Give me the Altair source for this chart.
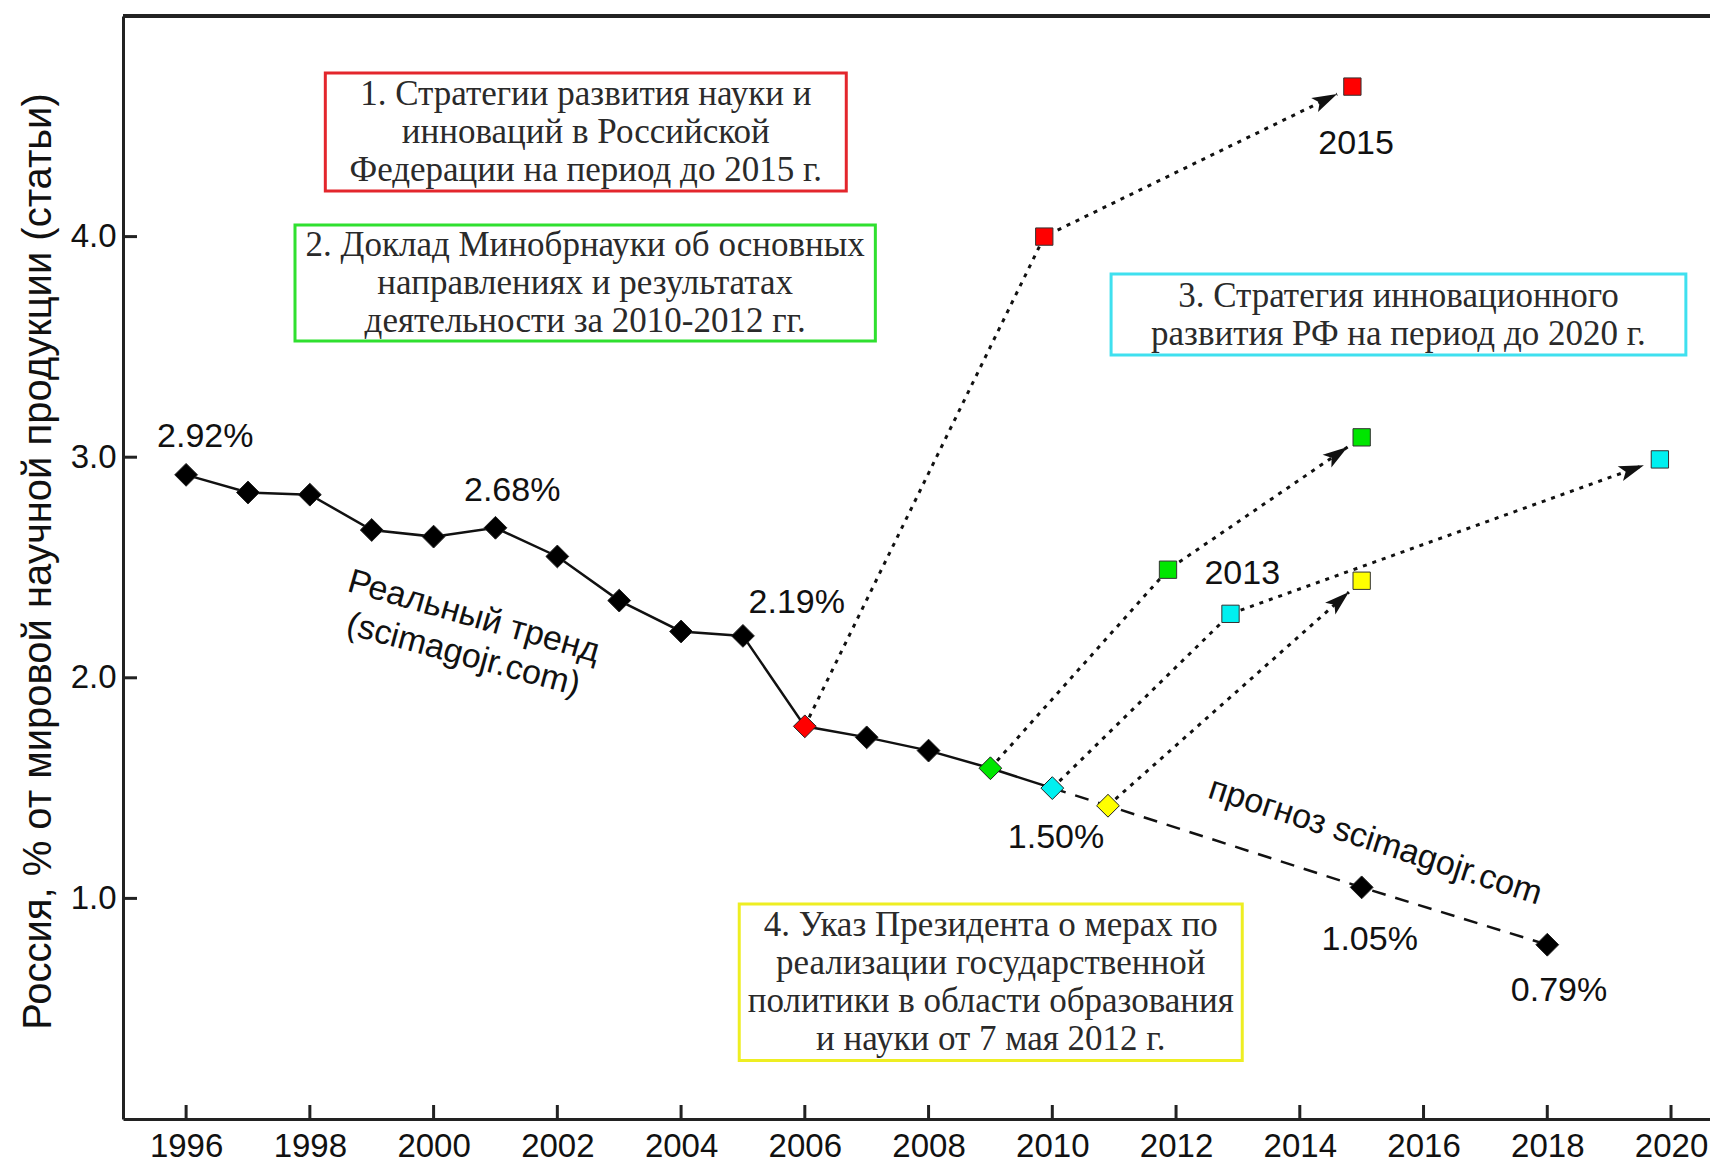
import math
import altair as alt
import pandas as pd

# ---------------- data ----------------
real_years = list(range(1996, 2011))
real_share = [2.92, 2.84, 2.83, 2.67, 2.64, 2.68, 2.55, 2.35, 2.21, 2.19,
              1.78, 1.73, 1.67, 1.59, 1.50]
real_fill = ["#000000"] * 10 + ["#ff0000", "#000000", "#000000", "#00e600", "#00f0f0"]

forecast_years = [2010, 2010.9, 2015, 2018]
forecast_share = [1.50, 1.42, 1.05, 0.79]
forecast_fill = ["#00f0f0", "#ffff00", "#000000", "#000000"]

target_ids = ["1", "2", "3", "4"]
target_colors = ["#ff0000", "#00e600", "#00f0f0", "#ffff00"]
target_from_year = [2006, 2009, 2010, 2010.9]
target_from_share = [1.78, 1.59, 1.50, 1.42]
target_mid_year = [2009.87, 2011.87, 2012.88, None]
target_mid_share = [4.00, 2.49, 2.29, None]
target_end_year = [2014.85, 2015.0, 2019.82, 2015.0]
target_end_share = [4.68, 3.09, 2.99, 2.44]

box_lines = [
    ["1. Стратегии развития науки и", "инноваций в Российской", "Федерации на период до 2015 г."],
    ["2. Доклад Минобрнауки об основных", "направлениях и результатах", "деятельности за 2010-2012 гг."],
    ["3. Стратегия инновационного", "развития РФ на период до 2020 г."],
    ["4. Указ Президента о мерах по", "реализации государственной",
     "политики в области образования", "и науки от 7 мая 2012 г."],
]
box_colors = ["#e3262c", "#2fe02f", "#3fe0ef", "#eeee22"]
box_x1 = [1998.25, 1997.76, 2010.95, 2004.94]
box_x2 = [2006.67, 2007.14, 2020.24, 2013.07]
box_y1 = [4.742, 4.053, 3.830, 0.975]
box_y2 = [4.207, 3.527, 3.463, 0.265]

label_text = ["2.92%", "2.68%", "2.19%", "1.50%", "1.05%", "0.79%", "2015", "2013",
              "Реальный тренд", "(scimagojr.com)", "прогноз scimagojr.com"]
label_year = [1996.31, 2001.27, 2005.87, 2010.06, 2015.13, 2018.19, 2014.91, 2013.07,
              2000.65, 2000.48, 2015.22]
label_share = [3.092, 2.847, 2.341, 1.274, 0.811, 0.578, 4.422, 2.471,
               2.276, 2.103, 1.258]
label_angle = [0, 0, 0, 0, 0, 0, 0, 0, 16, 15, 18]

x_ticks = list(range(1996, 2021, 2))
y_ticks = [1, 2, 3, 4]

# ---------------- scales / layout ----------------
W, H = 1587, 1103
X_DOM = [1994.98, 2020.63]
Y_DOM = [0, 5]
kx = W / (X_DOM[1] - X_DOM[0])
ky = H / (Y_DOM[1] - Y_DOM[0])
LINE_H = 38  # px between text lines in the boxes

x_scale = alt.Scale(domain=X_DOM, nice=False, zero=False)
y_scale = alt.Scale(domain=Y_DOM, nice=False, zero=False)

X_AX = alt.Axis(values=x_ticks, format="d", title=None, grid=False, ticks=False, tickSize=0,
                labelFont="Liberation Sans", labelFontSize=33, labelColor="#111",
                labelPadding=11, domainColor="#222", domainWidth=3)
Y_AX = alt.Axis(values=y_ticks, format=".1f", grid=False, ticks=False, tickSize=0,
                labelFont="Liberation Sans", labelFontSize=33, labelColor="#111",
                labelPadding=7, domainColor="#222", domainWidth=3,
                title="Россия, % от мировой научной продукции (статьи)",
                titleFont="Liberation Sans", titleFontSize=40, titleFontWeight="normal",
                titleColor="#111", titleAngle=270, titleX=-85, titleY=545,
                titleAlign="center", titleBaseline="middle")


def X(f):
    return alt.X(f, type="quantitative", scale=x_scale, axis=X_AX)


def Y(f):
    return alt.Y(f, type="quantitative", scale=y_scale, axis=Y_AX)


# ---------------- tables ----------------
real_df = pd.DataFrame({"year": real_years, "share": real_share, "fill": real_fill})
fc_df = pd.DataFrame({"year": forecast_years, "share": forecast_share, "fill": forecast_fill})
diamond_df = pd.concat([real_df, fc_df.iloc[1:]], ignore_index=True)

GAP = 17  # arrow tip stops short of the target square
dot_rows, sq_rows, arrow_rows = [], [], []
for i, tid in enumerate(target_ids):
    pts = [(target_from_year[i], target_from_share[i])]
    if target_mid_year[i] is not None:
        pts.append((target_mid_year[i], target_mid_share[i]))
        sq_rows.append({"year": target_mid_year[i], "share": target_mid_share[i],
                        "fill": target_colors[i]})
    ex, ey = target_end_year[i], target_end_share[i]
    sq_rows.append({"year": ex, "share": ey, "fill": target_colors[i]})
    ax, ay = pts[-1]
    dxp, dyp = (ex - ax) * kx, (ey - ay) * ky
    L = math.hypot(dxp, dyp)
    tx = ex - GAP * dxp / L / kx
    ty = ey - GAP * dyp / L / ky
    pts.append((tx, ty))
    ang = math.degrees(math.atan2(-dyp, dxp)) % 360
    arrow_rows.append({"year": tx, "share": ty, "angle": ang})
    for k, (px, py) in enumerate(pts):
        dot_rows.append({"id": tid, "k": k, "year": px, "share": py})

dot_df = pd.DataFrame(dot_rows)
sq_df = pd.DataFrame(sq_rows)
arrow_df = pd.DataFrame(arrow_rows)

box_df = pd.DataFrame({"color": box_colors,
                       "x1": box_x1, "x2": box_x2, "y1": box_y1, "y2": box_y2})

# one row per text line, centred as a block inside its box
line_rows = []
for i, lines in enumerate(box_lines):
    cx = (box_x1[i] + box_x2[i]) / 2
    cy = (box_y1[i] + box_y2[i]) / 2
    n = len(lines)
    for j, t in enumerate(lines):
        line_rows.append({"text": t, "cx": cx,
                          "cy": cy + ((n - 1) / 2 - j) * LINE_H / ky})
line_df = pd.DataFrame(line_rows)

label_df = pd.DataFrame({"text": label_text, "year": label_year,
                         "share": label_share, "angle": label_angle})
xt_df = pd.DataFrame({"year": x_ticks})
yt_df = pd.DataFrame({"share": y_ticks})

# ---------------- layers ----------------
boxes = alt.Chart(box_df).mark_rect(fill="white", strokeWidth=3).encode(
    x=X("x1"), x2="x2:Q", y=Y("y1"), y2="y2:Q",
    stroke=alt.Stroke("color:N", scale=None))

box_labels = alt.Chart(line_df).mark_text(
    font="Liberation Serif", fontSize=35, color="#2a2a2a", align="center", baseline="middle"
).encode(x=X("cx"), y=Y("cy"), text="text:N")

dotted = alt.Chart(dot_df).mark_line(color="#111", strokeWidth=3, strokeDash=[4, 6]).encode(
    x=X("year"), y=Y("share"), detail="id:N", order="k:Q")

forecast = alt.Chart(fc_df).mark_line(color="#111", strokeWidth=2.5, strokeDash=[14, 10]).encode(
    x=X("year"), y=Y("share"))

real = alt.Chart(real_df).mark_line(color="#111", strokeWidth=2.5).encode(
    x=X("year"), y=Y("share"))

arrows = alt.Chart(arrow_df).mark_point(
    shape="M0,0L-2,-0.62L-1.55,0L-2,0.62Z", size=625, filled=True, color="#111", opacity=1
).encode(x=X("year"), y=Y("share"), angle=alt.Angle("angle:Q", scale=None))

squares = alt.Chart(sq_df).mark_point(shape="square", size=300, filled=True, opacity=1,
                                      stroke="#333", strokeWidth=1).encode(
    x=X("year"), y=Y("share"), fill=alt.Fill("fill:N", scale=None))

diamonds = alt.Chart(diamond_df).mark_point(shape="diamond", size=520, filled=True, opacity=1,
                                            stroke="#222", strokeWidth=1).encode(
    x=X("year"), y=Y("share"), fill=alt.Fill("fill:N", scale=None))

labels = alt.Chart(label_df).mark_text(font="Liberation Sans", fontSize=34, color="#111",
                                       align="center", baseline="middle").encode(
    x=X("year"), y=Y("share"), text="text:N", angle=alt.Angle("angle:Q", scale=None))

xticks = alt.Chart(xt_df).mark_rule(color="#222", strokeWidth=3).encode(
    x=X("year"), y=alt.value(H), y2=alt.value(H - 14))

yticks = alt.Chart(yt_df).mark_rule(color="#222", strokeWidth=3).encode(
    y=Y("share"), x=alt.value(0), x2=alt.value(14))

frame_top = alt.Chart(xt_df).mark_rule(color="#222", strokeWidth=3).encode(
    x=alt.value(0), x2=alt.value(W), y=alt.value(0))

chart = alt.layer(
    boxes, box_labels, dotted, forecast, real, arrows, squares, diamonds, labels,
    xticks, yticks, frame_top
).properties(
    width=W, height=H,
    autosize=alt.AutoSizeParams(type="none"),
    padding={"left": 115, "top": 8, "right": 0, "bottom": 44},
    background="white",
).configure_view(stroke=None)

chart.save("out.html", embed_options={"renderer": "svg", "actions": False})
